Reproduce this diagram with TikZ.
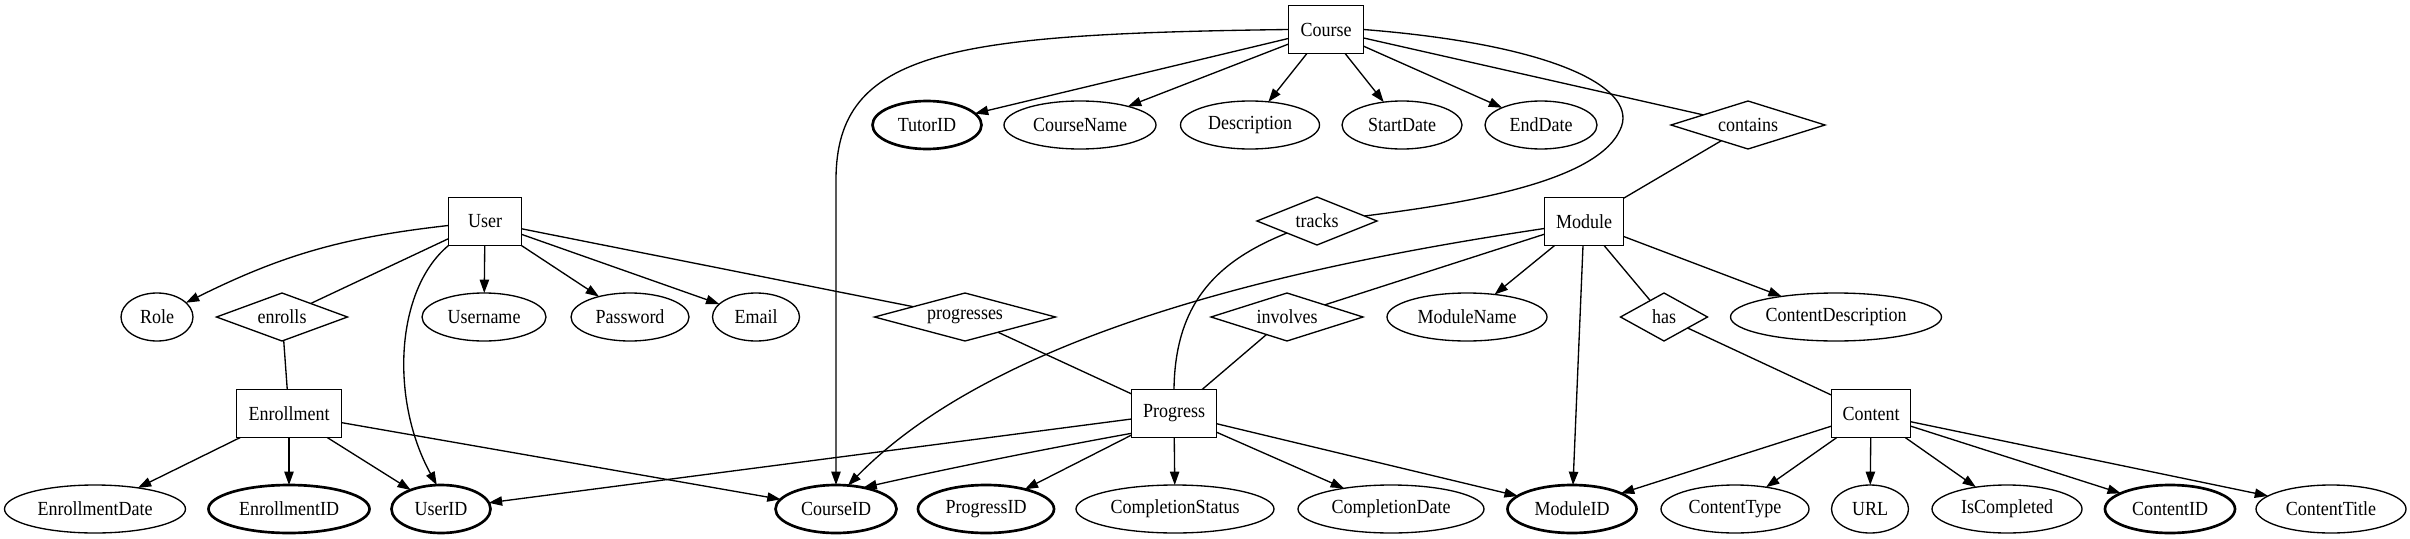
\documentclass[tikz,border=0pt]{standalone}
\usepackage{fontspec}
\setmainfont{Liberation Serif}[FakeStretch=0.9]
\usetikzlibrary{shapes.geometric,arrows.meta}
\begin{document}
\begin{tikzpicture}[x=0.75pt,y=-0.75pt,
  line width=1pt,
  every node/.style={font=\fontsize{15}{17}\selectfont, inner sep=0pt, outer sep=0pt},
  entity/.style={draw, rectangle, minimum height=36pt, line width=1pt},
  attr/.style={draw, ellipse, minimum height=36pt, line width=1pt},
  keyattr/.style={draw, ellipse, minimum height=36pt, line width=2pt},
  rel/.style={draw, diamond, aspect=4, minimum height=36pt, line width=1pt},
  arr/.style={-{Triangle[length=10pt,width=7pt]}},
  link/.style={line width=1pt}]
\fill[white] (0,0) rectangle (2410,539);
\useasboundingbox (0,0) rectangle (2410,539);

% entities
\node[entity, minimum width=56.25pt] (Course)     at (1326,29.5)  {Course};
\node[entity, minimum width=54.75pt] (User)       at (485,221.5)  {User};
\node[entity, minimum width=59.25pt] (Module)     at (1584,221.5) {Module};
\node[entity, minimum width=78.75pt] (Enrollment) at (289,413.5)  {Enrollment};
\node[entity, minimum width=63.75pt] (Progress)   at (1174,413.5) {Progress};
\node[entity, minimum width=59.25pt] (Content)    at (1871,413.5) {Content};

% relationships
\node[rel, minimum width=115.5pt]  (contains)   at (1748,125) {contains};
\node[rel, minimum width=90pt]     (tracks)     at (1317,221) {tracks};
\node[rel, minimum width=98.25pt]  (enrolls)    at (282,317)  {enrolls};
\node[rel, minimum width=135.75pt] (progresses) at (965,317)  {progresses};
\node[rel, minimum width=114pt]    (involves)   at (1287,317) {involves};
\node[rel, minimum width=65.25pt]  (has)        at (1664,317) {has};

% row 2 attributes
\node[keyattr, minimum width=81.75pt] (TutorID)     at (927,125)  {TutorID};
\node[attr, minimum width=114pt]      (CourseName)  at (1080,125) {CourseName};
\node[attr, minimum width=104.25pt]   (Description) at (1250,125) {Description};
\node[attr, minimum width=90pt]       (StartDate)   at (1402,125) {StartDate};
\node[attr, minimum width=84pt]       (EndDate)     at (1541,125) {EndDate};

% row 4 attributes
\node[attr, minimum width=54pt]     (Role)               at (157,317)  {Role};
\node[attr, minimum width=93pt]     (Username)           at (484,317)  {Username};
\node[attr, minimum width=88.5pt]   (Password)           at (630,317)  {Password};
\node[attr, minimum width=65.25pt]  (Email)              at (756,317)  {Email};
\node[attr, minimum width=120pt]    (ModuleName)         at (1467,317) {ModuleName};
\node[attr, minimum width=158.25pt] (ContentDescription) at (1836,317) {ContentDescription};

% row 6 attributes
\node[attr, minimum width=135.75pt]   (EnrollmentDate)   at (95,509)   {EnrollmentDate};
\node[keyattr, minimum width=120.75pt] (EnrollmentID)    at (289,509)  {EnrollmentID};
\node[keyattr, minimum width=74.25pt] (UserID)           at (441,509)  {UserID};
\node[keyattr, minimum width=90.75pt] (CourseID)         at (836,509)  {CourseID};
\node[keyattr, minimum width=102pt]   (ProgressID)       at (986,509)  {ProgressID};
\node[attr, minimum width=148.5pt]    (CompletionStatus) at (1175,509) {CompletionStatus};
\node[attr, minimum width=139.5pt]    (CompletionDate)   at (1391,509) {CompletionDate};
\node[keyattr, minimum width=96.75pt] (ModuleID)         at (1572,509) {ModuleID};
\node[attr, minimum width=111pt]      (ContentType)      at (1735,509) {ContentType};
\node[attr, minimum width=57.75pt]    (URL)              at (1870,509) {URL};
\node[attr, minimum width=112.5pt]    (IsCompleted)      at (2007,509) {IsCompleted};
\node[keyattr, minimum width=97.5pt]  (ContentID)        at (2170,509) {ContentID};
\node[attr, minimum width=112.5pt]    (ContentTitle)     at (2331,509) {ContentTitle};

% Course edges
\draw[arr] (Course) -- (TutorID);
\draw[arr] (Course) -- (CourseName);
\draw[arr] (Course) -- (Description);
\draw[arr] (Course) -- (StartDate);
\draw[arr] (Course) -- (EndDate);
\draw[link] (Course) -- (contains);
\draw[link] (contains) -- (Module);
\draw[arr] (Course.west) .. controls (950,34) and (836,50) .. (836,180) -- (CourseID.north);
\draw[link] (Course.east) .. controls (1560,45) and (1640,90) .. (1620,130)
  .. controls (1595,185) and (1450,205) .. (tracks.6);

% User edges
\draw[arr] (User) to[bend right=10] (Role);
\draw[link] (User) -- (enrolls);
\draw[arr] (User.south west) .. controls (395,290) and (390,400) .. (UserID.100);
\draw[arr] (User) -- (Username);
\draw[arr] (User) -- (Password);
\draw[arr] (User) -- (Email);
\draw[link] (User) -- (progresses);
\draw[link] (enrolls) -- (Enrollment);

% Enrollment edges
\draw[arr] (Enrollment) -- (EnrollmentDate);
\draw[arr] (Enrollment) -- (EnrollmentID);
\draw[arr] (Enrollment) -- (UserID);
\draw[arr] (Enrollment) -- (CourseID);

% tracks
\draw[link] (tracks.south west) .. controls (1220,260) and (1175,300) .. (Progress.north);

% Module edges
\draw[arr] (Module.190) .. controls (1300,265) and (1000,330) .. (CourseID.63);
\draw[link] (Module) -- (involves);
\draw[arr] (Module) -- (ModuleName);
\draw[arr] (Module) -- (ModuleID);
\draw[link] (Module) -- (has);
\draw[arr] (Module) -- (ContentDescription);
\draw[link] (progresses) -- (Progress);
\draw[link] (involves) -- (Progress);
\draw[link] (has) -- (Content);

% Progress edges
\draw[arr] (Progress) -- (UserID);
\draw[arr] (Progress.205) .. controls (1050,448) and (950,468) .. (CourseID.38);
\draw[arr] (Progress) -- (ProgressID);
\draw[arr] (Progress) -- (CompletionStatus);
\draw[arr] (Progress) -- (CompletionDate);
\draw[arr] (Progress) -- (ModuleID);

% Content edges
\draw[arr] (Content) -- (ModuleID);
\draw[arr] (Content) -- (ContentType);
\draw[arr] (Content) -- (URL);
\draw[arr] (Content) -- (IsCompleted);
\draw[arr] (Content) -- (ContentID);
\draw[arr] (Content) -- (ContentTitle);
\end{tikzpicture}
\end{document}
